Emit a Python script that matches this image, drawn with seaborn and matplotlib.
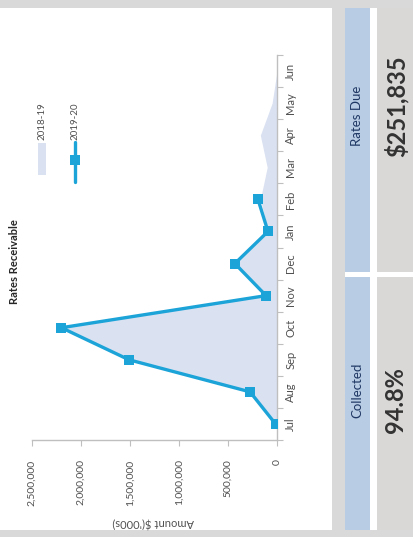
import matplotlib
matplotlib.use("Agg")
import matplotlib.pyplot as plt
from matplotlib.patches import Rectangle
from matplotlib.lines import Line2D
import numpy as np
import pandas as pd
import seaborn as sns

# ---- data -------------------------------------------------------------
months = ["Jul", "Aug", "Sep", "Oct", "Nov", "Dec", "Jan", "Feb", "Mar", "Apr", "May", "Jun"]
rates_2018_19 = [20000, 260000, 1480000, 2180000, 100000, 420000, 90000, 170000,
                 100000, 170000, 50000, 0]
rates_2019_20 = [15000, 275000, 1510000, 2200000, 112000, 430000, 92000, 194000]
value_ticks = [0, 500000, 1000000, 1500000, 2000000, 2500000]
kpi_labels = ["Rates Due", "Collected"]
kpi_values = ["$251,835", "94.8%"]
series_names = ["2018-19", "2019-20"]

# ---- style ------------------------------------------------------------
sns.set_theme(style="white")
plt.rcParams["font.family"] = ["Lato", "DejaVu Sans"]

W, H = 414, 537
LINE_C = "#1ca3d8"
AREA_C = "#dae1f1"
AXIS_C = "#bfbfbf"
TEXT_C = "#505050"

fig = plt.figure(figsize=(W / 100, H / 100), dpi=100, facecolor="#d9d9d9")


def box(x0, y0, x1, y1, color):
    fig.add_artist(Rectangle((x0 / W, 1 - y1 / H), (x1 - x0) / W, (y1 - y0) / H,
                             transform=fig.transFigure, facecolor=color,
                             edgecolor="none", zorder=-5))


def ftext(x, y, s, **kw):
    fig.text(x / W, 1 - y / H, s, **kw)


# dashboard panels
box(0, 8, 332, 530, "white")
box(345, 8, 370, 272, "#b8cce4")
box(345, 277, 370, 530, "#b8cce4")
box(370, 8, 377, 530, "white")
box(345, 272, 414, 277, "white")
box(377, 8, 414, 272, "#dad8d6")
box(377, 277, 414, 530, "#dad8d6")

# ---- chart ------------------------------------------------------------
ax = fig.add_axes([32 / W, 1 - 440 / H, (277 - 32) / W, (440 - 55) / H])
ax.set_facecolor("white")

idx_prev = np.arange(len(rates_2018_19))
ax.fill_betweenx(idx_prev, 0, rates_2018_19, color=AREA_C, lw=0, zorder=1)

df = pd.DataFrame({"month_idx": np.arange(len(rates_2019_20)), "amount": rates_2019_20})
sns.lineplot(data=df, x="amount", y="month_idx", orient="y", sort=False, ax=ax,
             color=LINE_C, lw=2.4, marker="s", markersize=7.5, markeredgewidth=0,
             zorder=3)

ax.set_xlim(2500000, 0)
ax.set_ylim(-0.5, 11.5)
ax.set_xticks(value_ticks)
ax.set_xticklabels([f"{v:,}" for v in value_ticks], rotation=90,
                   fontsize=7.5, color=TEXT_C)
ax.yaxis.tick_right()
ax.set_yticks(range(len(months)))
ax.set_yticklabels(months, rotation=90, va="center", fontsize=8, color=TEXT_C)
ax.set_yticks(np.arange(-0.5, len(months), 1), minor=True)
ax.tick_params(axis="y", which="major", length=0, pad=6)
ax.tick_params(axis="y", which="minor", length=4, width=0.8, color=AXIS_C, direction="out")
ax.tick_params(axis="x", length=4, width=0.8, color=AXIS_C, direction="out", pad=10,
               bottom=True)
ax.set_xlabel("")
ax.set_ylabel("")
for side in ["left", "top"]:
    ax.spines[side].set_visible(False)
for side in ["right", "bottom"]:
    ax.spines[side].set_color(AXIS_C)
    ax.spines[side].set_linewidth(1)
ax.grid(False)

# axis title and chart title
ftext(153, 522, "Amount $('000s)", rotation=180, ha="center", va="center",
      fontsize=8, color=TEXT_C)
ftext(15, 262, "Rates Receivable", rotation=90, ha="center", va="center",
      fontsize=8, fontweight="bold", color="#262626")

# legend
fig.add_artist(Rectangle((38 / W, 1 - 175 / H), 8 / W, (175 - 143) / H,
                         transform=fig.transFigure, facecolor=AREA_C,
                         edgecolor="none", zorder=5))
ftext(42, 140, series_names[0], rotation=90, ha="center", va="bottom",
      fontsize=7, color=TEXT_C)
fig.add_artist(Line2D([75 / W, 75 / W], [1 - 182 / H, 1 - 142 / H],
                      transform=fig.transFigure, color=LINE_C, lw=2.4, zorder=5))
fig.add_artist(Line2D([75 / W], [1 - 160 / H], transform=fig.transFigure,
                      color=LINE_C, marker="s", markersize=7.5, markeredgewidth=0,
                      zorder=6))
ftext(75, 140, series_names[1], rotation=90, ha="center", va="bottom",
      fontsize=7, color=TEXT_C)

# KPI tiles
ftext(357, 116, kpi_labels[0], rotation=90, ha="center", va="center",
      fontsize=9.5, color="#1f3864")
ftext(396, 106, kpi_values[0], rotation=90, ha="center", va="center",
      fontsize=17, fontweight="bold", color="#333333")
ftext(357, 390, kpi_labels[1], rotation=90, ha="center", va="center",
      fontsize=9.5, color="#1f3864")
ftext(396, 400, kpi_values[1], rotation=90, ha="center", va="center",
      fontsize=17, fontweight="bold", color="#333333")

fig.savefig("out.png", dpi=100, facecolor=fig.get_facecolor())
